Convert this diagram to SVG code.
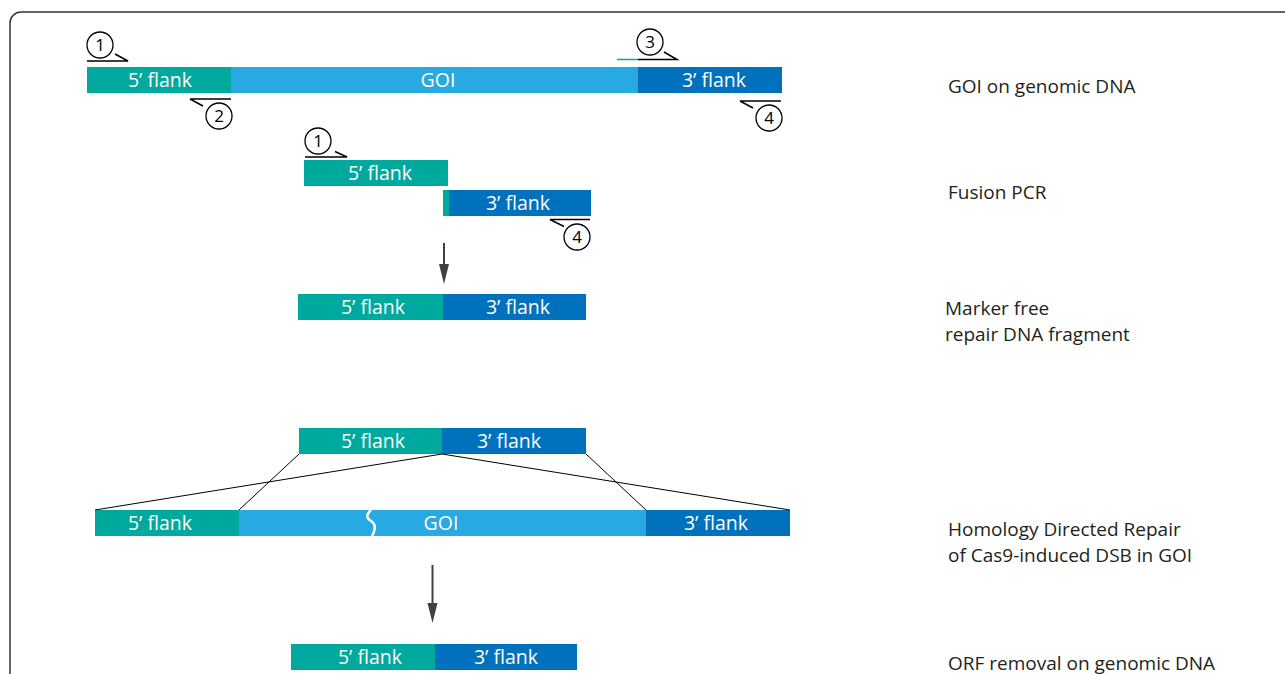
<svg xmlns="http://www.w3.org/2000/svg" width="1285" height="674" viewBox="0 0 1285 674">
<style>
.t5{fill:#00A99D}
.gi{fill:#29A9E1}
.t3{fill:#0071BC}
.bt{font-family:"Open Sans",sans-serif;font-size:19.5px;fill:#fff;text-anchor:middle}
.lb{font-family:"Open Sans",sans-serif;font-size:19px;fill:#231F20}
.pr{fill:none;stroke:#000;stroke-width:1.5}
.pc{fill:#fff;stroke:#000;stroke-width:1.3}
.pn{font-family:"Open Sans",sans-serif;font-size:17px;fill:#000;text-anchor:middle}
.ln{stroke:#000;stroke-width:1;fill:none}
.ar{stroke:#404040;stroke-width:2;fill:none}
.ah{fill:#404040}
</style>
<rect width="1285" height="674" fill="#fff"/>
<rect x="10" y="12" width="1320" height="720" rx="11" fill="none" stroke="#333" stroke-width="1.5"/>

<g id="row1">
  <rect class="t5" x="87" y="67" width="144" height="26"/>
  <rect class="gi" x="231" y="67" width="407" height="26"/>
  <rect class="t3" x="638" y="67" width="144" height="26"/>
  <text class="bt" x="160" y="87">5’ flank</text>
  <text class="bt" x="438" y="87">GOI</text>
  <text class="bt" x="714" y="87">3’ flank</text>
</g>
<g id="primer1a">
  <path class="pr" d="M87,61 H128 L115,54"/>
  <circle class="pc" cx="100" cy="45" r="13"/>
  <text class="pn" x="100" y="51">1</text>
</g>
<g id="primer2">
  <path class="pr" d="M231,99 H190 L203,106"/>
  <circle class="pc" cx="219" cy="116" r="13"/>
  <text class="pn" x="219" y="122">2</text>
</g>
<g id="primer3">
  <path d="M617,59.5 H638" stroke="#00A99D" stroke-width="1.5"/>
  <path class="pr" d="M638,59.5 H677 L664,52"/>
  <circle class="pc" cx="650" cy="42" r="13"/>
  <text class="pn" x="650" y="48">3</text>
</g>
<g id="primer4a">
  <path class="pr" d="M781,101 H740 L753,108"/>
  <circle class="pc" cx="769" cy="118" r="13"/>
  <text class="pn" x="769" y="124">4</text>
</g>
<text id="label1" class="lb" x="948" y="93">GOI on genomic DNA</text>

<g id="row2a">
  <rect class="t5" x="304" y="160" width="144" height="26"/>
  <text class="bt" x="380" y="180">5’ flank</text>
</g>
<g id="row2b">
  <rect class="t5" x="443" y="190" width="6" height="26"/>
  <rect class="t3" x="449" y="190" width="142" height="26"/>
  <text class="bt" x="518" y="210">3’ flank</text>
</g>
<g id="primer1b">
  <path class="pr" d="M305,157 H347 L335,151.5"/>
  <circle class="pc" cx="318" cy="141" r="13"/>
  <text class="pn" x="318" y="147">1</text>
</g>
<g id="primer4b">
  <path class="pr" d="M590,219.5 H550 L564,226.5"/>
  <circle class="pc" cx="577" cy="237" r="13"/>
  <text class="pn" x="577" y="243">4</text>
</g>
<text id="label2" class="lb" x="948" y="199">Fusion PCR</text>

<g id="row3">
  <rect class="t5" x="298" y="294" width="145" height="26"/>
  <rect class="t3" x="443" y="294" width="143" height="26"/>
  <text class="bt" x="373" y="314">5’ flank</text>
  <text class="bt" x="518" y="314">3’ flank</text>
</g>
<text id="label3" class="lb" x="945" y="315">Marker free<tspan x="945" y="341">repair DNA fragment</tspan></text>

<g id="row4top">
  <rect class="t5" x="299" y="428" width="143" height="26"/>
  <rect class="t3" x="442" y="428" width="144" height="26"/>
  <text class="bt" x="373" y="448">5’ flank</text>
  <text class="bt" x="509" y="448">3’ flank</text>
</g>
<g id="row4bottom">
  <rect class="t5" x="95" y="510" width="144" height="26"/>
  <rect class="gi" x="239" y="510" width="407" height="26"/>
  <rect class="t3" x="646" y="510" width="144" height="26"/>
  <path d="M371,510 C366,515 366,518 371,521 C376,524 376,529 372,536" fill="none" stroke="#fff" stroke-width="2.5"/>
  <text class="bt" x="160" y="530">5’ flank</text>
  <text class="bt" x="441" y="530">GOI</text>
  <text class="bt" x="716" y="530">3’ flank</text>
</g>
<text id="label4" class="lb" x="948" y="536">Homology Directed Repair<tspan x="948" y="562">of Cas9-induced DSB in GOI</tspan></text>

<g id="row5">
  <rect class="t5" x="291" y="644" width="144" height="26"/>
  <rect class="t3" x="435" y="644" width="142" height="26"/>
  <text class="bt" x="370" y="664">5’ flank</text>
  <text class="bt" x="506" y="664">3’ flank</text>
</g>
<text id="label5" class="lb" x="948" y="670">ORF removal on genomic DNA</text>

<g id="connectors">
  <path class="ar" d="M444,243 V265"/>
  <path class="ah" d="M439,264 L449,264 L444,284 Z"/>
  <path class="ar" d="M432.5,565 V604"/>
  <path class="ah" d="M427.5,603 L437.5,603 L432.5,623 Z"/>
  <path class="ln" d="M299,454 L239,510"/>
  <path class="ln" d="M442,454 L95,510"/>
  <path class="ln" d="M442,454 L790,510"/>
  <path class="ln" d="M586,454 L646,510"/>
</g>
</svg>
